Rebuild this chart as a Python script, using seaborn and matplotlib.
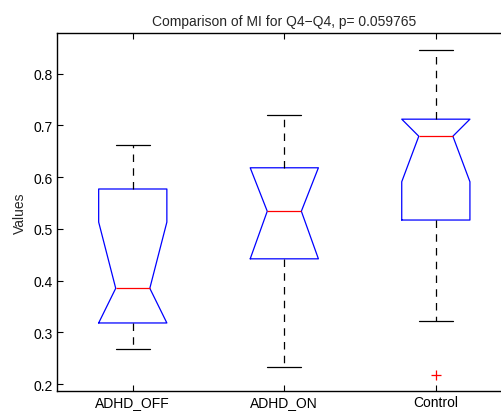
import matplotlib
matplotlib.use("Agg")
import matplotlib.pyplot as plt
import seaborn as sns

# ---- data ----
groups = ["ADHD_OFF", "ADHD_ON", "Control"]
whisker_low = [0.267, 0.232, 0.322]
q1 = [0.318, 0.442, 0.517]
median = [0.385, 0.534, 0.679]
q3 = [0.577, 0.618, 0.712]
whisker_high = [0.662, 0.721, 0.846]
notch_low = [0.318, 0.442, 0.591]   # notch limits (clipped to the box)
notch_high = [0.513, 0.618, 0.712]
outliers = [[], [], [0.2175]]
title = "Comparison of MI for Q4\u2212Q4, p= 0.059765"

sns.set_style("ticks")
plt.rcParams["font.family"] = ["Liberation Sans", "DejaVu Sans"]
plt.rcParams["font.size"] = 10

fig = plt.figure(figsize=(5.02, 4.14), dpi=100)
ax = fig.add_axes([57 / 502, (414 - 392.3) / 414, 454.6 / 502, (392.3 - 34.3) / 414])

stats = []
for i, g in enumerate(groups):
    stats.append(dict(label=g, whislo=whisker_low[i], q1=q1[i], med=median[i],
                      q3=q3[i], whishi=whisker_high[i], cilo=notch_low[i],
                      cihi=notch_high[i], fliers=outliers[i]))

positions = list(range(1, len(groups) + 1))
ax.bxp(stats, positions=positions, widths=0.45, capwidths=0.225,
       shownotches=True, patch_artist=False, manage_ticks=False,
       boxprops=dict(color="#0000ff", linewidth=0.9),
       medianprops=dict(color="#ff0000", linewidth=0.9),
       whiskerprops=dict(color="black", linewidth=0.9, linestyle=(0, (6, 5))),
       capprops=dict(color="black", linewidth=0.9),
       flierprops=dict(marker="+", markeredgecolor="#ff0000", markersize=7,
                       linestyle="none", markeredgewidth=0.9))

ax.set_xlim(0.5, 3.5)
ax.set_ylim(0.1859, 0.878)
ax.set_xticks(positions)
ax.set_xticklabels(groups)
ax.set_yticks([0.2, 0.3, 0.4, 0.5, 0.6, 0.7, 0.8])
ax.set_yticklabels(["0.2", "0.3", "0.4", "0.5", "0.6", "0.7", "0.8"])
ax.tick_params(direction="in", length=4, width=0.8, top=True, right=True,
               labelsize=10, colors="black", pad=3)
for s in ax.spines.values():
    s.set_visible(True)
    s.set_linewidth(1.0)
    s.set_color("black")
ax.set_ylabel("Values", fontsize=10, labelpad=5)
ax.set_title(title, fontsize=10, pad=6)

fig.savefig("out.png", dpi=100)
